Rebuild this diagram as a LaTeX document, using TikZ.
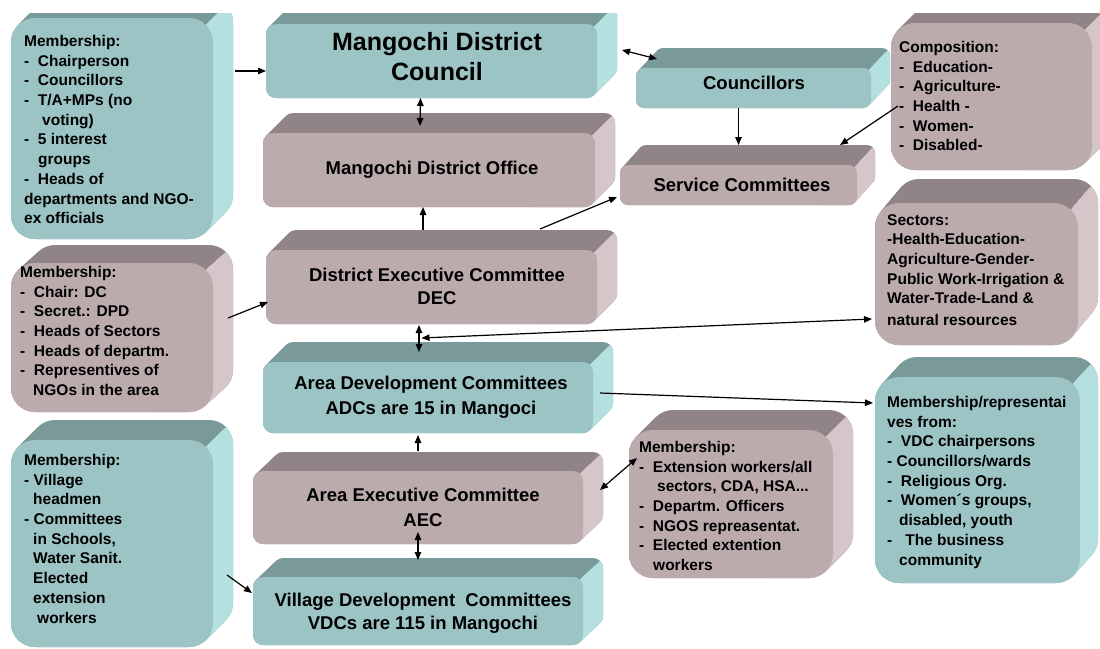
\documentclass[tikz,border=0pt]{standalone}
\usepackage{fontspec}
\setmainfont{Liberation Sans}
\usetikzlibrary{calc,arrows.meta}
\definecolor{tealF}{RGB}{157,196,196}
\definecolor{tealT}{RGB}{122,153,153}
\definecolor{tealS}{RGB}{180,224,224}
\definecolor{mauveF}{RGB}{187,171,173}
\definecolor{mauveT}{RGB}{144,132,134}
\definecolor{mauveS}{RGB}{215,198,201}
% #1 name, #2 x1, #3 y1, #4 x2, #5 y2, #6 dx, #7 dy, #8 radius, #9 scheme
\newcommand\bevbox[9]{%
  \foreach \t in {0,...,12}
    \fill[#9T, rounded corners=#8] ({#2+\t*#6/12},{#3-\t*#7/12}) rectangle ++({#4-#2},{#5-#3});
  \begin{scope}
    \clip ({#4-0.293*#8-3*#6},{#3+0.293*#8+3*#7}) -- ({#4-0.293*#8+3*#6},{#3+0.293*#8-3*#7})
       -- ({#4+3*#6+10},{#5+30}) -- ({#4-0.293*#8-3*#6},{#5+30}) -- cycle;
    \foreach \t in {0,...,12}
      \fill[#9S, rounded corners=#8] ({#2+\t*#6/12},{#3-\t*#7/12}) rectangle ++({#4-#2},{#5-#3});
  \end{scope}
  \node[fill=#9F, rounded corners=#8, inner sep=0pt, outer sep=0pt,
        minimum width={(#4-#2)*1pt}, minimum height={(#5-#3)*1pt}] (#1) at ({(#2+#4)/2},{(#3+#5)/2}) {};
}
\tikzset{
  lbl/.style={font=\bfseries\fontsize{18.5}{24}\selectfont, align=center, inner sep=0pt},
  big/.style={lbl, font=\bfseries\fontsize{25}{30}\selectfont},
  mem/.style={font=\bfseries\fontsize{15.5}{19.7}\selectfont, align=left, anchor=north west, inner sep=0pt},
  tip/.tip={Triangle[length=8pt,width=6.5pt]},
  con/.style={line width=1.2pt, -tip},
  dcon/.style={line width=1.2pt, tip-tip},
}
\begin{document}
\begin{tikzpicture}[x=1pt,y=-1pt]
\useasboundingbox (0,0) rectangle (1100,648);
\begin{scope}
\clip (0,13) rectangle (1100,648);
\bevbox{memA}{11}{18}{213}{239}{20}{20}{24}{teal}
\bevbox{council}{266}{24}{597}{98}{20}{20}{10}{teal}
\bevbox{councillors}{636}{68}{871}{108}{19}{20}{8}{teal}
\bevbox{comp}{891}{23}{1092}{170}{20}{20}{24}{mauve}
\bevbox{office}{263}{133}{595}{207}{20}{20}{10}{mauve}
\bevbox{service}{620}{165}{857}{205}{18}{20}{8}{mauve}
\bevbox{memI}{11}{263}{213}{412}{20}{18}{24}{mauve}
\bevbox{dec}{266}{250}{597}{324}{20}{20}{10}{mauve}
\bevbox{sect}{875}{203}{1078}{345}{20}{24}{24}{mauve}
\bevbox{adc}{263}{362}{593}{433}{20}{20}{10}{teal}
\bevbox{memK}{875}{377}{1080}{583}{18}{20}{24}{teal}
\bevbox{aec}{253}{471}{583}{544}{20}{19}{10}{mauve}
\bevbox{memM}{629}{430}{833}{578}{20}{20}{24}{mauve}
\bevbox{memN}{11}{440}{213}{647}{20}{20}{24}{teal}
\bevbox{vdc}{253}{577}{583}{645}{20}{19}{10}{teal}
\end{scope}

% labels of the central boxes
\node[big] (councilT) at (437,57) {Mangochi District\\Council};
\node[lbl] (councillorsT) at (754,83) {Councillors};
\node[lbl] (officeT) at (432,170) {Mangochi District Office};
\node[lbl] (serviceT) at (742,185) {Service Committees};
\node[lbl, font=\bfseries\fontsize{18.5}{23}\selectfont] (decT) at (437,286.5) {District Executive Committee\\DEC};
\node[lbl, font=\bfseries\fontsize{18.5}{25}\selectfont] (adcT) at (431,397.5) {Area Development Committees\\ADCs are 15 in Mangoci};
\node[lbl, font=\bfseries\fontsize{18.5}{25}\selectfont] (aecT) at (423,507.5) {Area Executive Committee\\AEC};
\node[lbl, font=\bfseries\fontsize{18.5}{23}\selectfont] (vdcT) at (423,613.5) {Village Development~~Committees\\VDCs are 115 in Mangochi};

% texts of the side boxes
\node[mem] (memAT) at (24,35) {Membership:\\-~~Chairperson\\-~~Councillors\\-~~T/A+MPs (no\\\hspace*{18pt}voting)\\-~~5 interest\\\hspace*{14pt}groups\\-~~Heads of\\departments and NGO-\\ex officials};
\node[mem] (compT) at (899,41) {Composition:\\-~~Education-\\-~~Agriculture-\\-~~Health -\\-~~Women-\\-~~Disabled-};
\node[mem] (sectT) at (887,214) {Sectors:\\-Health-Education-\\Agriculture-Gender-\\Public Work-Irrigation \&\\Water-Trade-Land \&\\[2pt]natural resources};
\node[mem] (memIT) at (20,266) {Membership:\\-~~Chair: DC\\-~~Secret.: DPD\\-~~Heads of Sectors\\-~~Heads of departm.\\-~~Representives of\\\hspace*{13pt}NGOs in the area};
\node[mem] (memKT) at (887,396) {Membership/representai\\ves from:\\-~~VDC chairpersons\\-~Councillors/wards\\-~~Religious Org.\\-~~Women´s groups,\\\hspace*{12pt}disabled, youth\\-~~~The business\\\hspace*{12pt}community};
\node[mem] (memMT) at (639,441) {Membership:\\-~~Extension workers/all\\\hspace*{18pt}sectors, CDA, HSA...\\-~~Departm. Officers\\-~~NGOS repreasentat.\\-~~Elected extention\\\hspace*{14pt}workers};
\node[mem] (memNT) at (24,454) {Membership:\\-~Village\\\hspace*{9pt}headmen\\-~Committees\\\hspace*{9pt}in Schools,\\\hspace*{9pt}Water Sanit.\\\hspace*{9pt}Elected\\\hspace*{9pt}extension\\\hspace*{13pt}workers};

% connectors
\draw[con] ($(memA.north east)+(22,53)$) -- ($(council.north west)+(0,47)$);
\draw[dcon] ($(council.south)+(-11,0)$) -- ($(office.north)+(-9,-7)$);
\draw[dcon] ($(council.east)+(25,-11)$) -- ($(councillors.north west)+(21,-9)$);
\draw[con] ($(councillors.south)+(-15,0)$) -- ($(service.north)+(0,-20)$);
\draw[con] ($(comp.west)+(7,9.5)$) -- ($(service.north east)+(-17,-20)$);
\draw[con] ($(dec.north)+(-8.5,-20)$) -- ($(office.south)+(-6,0)$);
\draw[con] ($(dec.north)+(108.5,-21)$) -- ($(service.west)+(-3,12)$);
\draw[con] ($(memI.east)+(15,-19.5)$) -- ($(dec.west)+(2,15)$);
\draw[dcon] ($(dec.south)+(-12.5,1)$) -- ($(adc.north)+(-9,-10)$);
\coordinate (junc) at ($(dec.south)+(-10,14)$);
\draw[dcon] (junc) -- ($(sect.west)+(-3,45)$);
\draw[con] ($(adc.east)+(7,-4.5)$) -- ($(memK.west)+(-2,-77)$);
\draw[con] ($(aec.north)+(0,-20)$) -- ($(adc.south)+(-10,2)$);
\draw[dcon] ($(aec.south)+(0,-12)$) -- ($(vdc.north)+(0,-17)$);
\draw[dcon] ($(aec.east)+(17,-17.5)$) -- ($(memM.west)+(8,-46)$);
\draw[con] ($(memN.east)+(14,31.5)$) -- ($(vdc.west)+(-1,-18)$);
\end{tikzpicture}
\end{document}
